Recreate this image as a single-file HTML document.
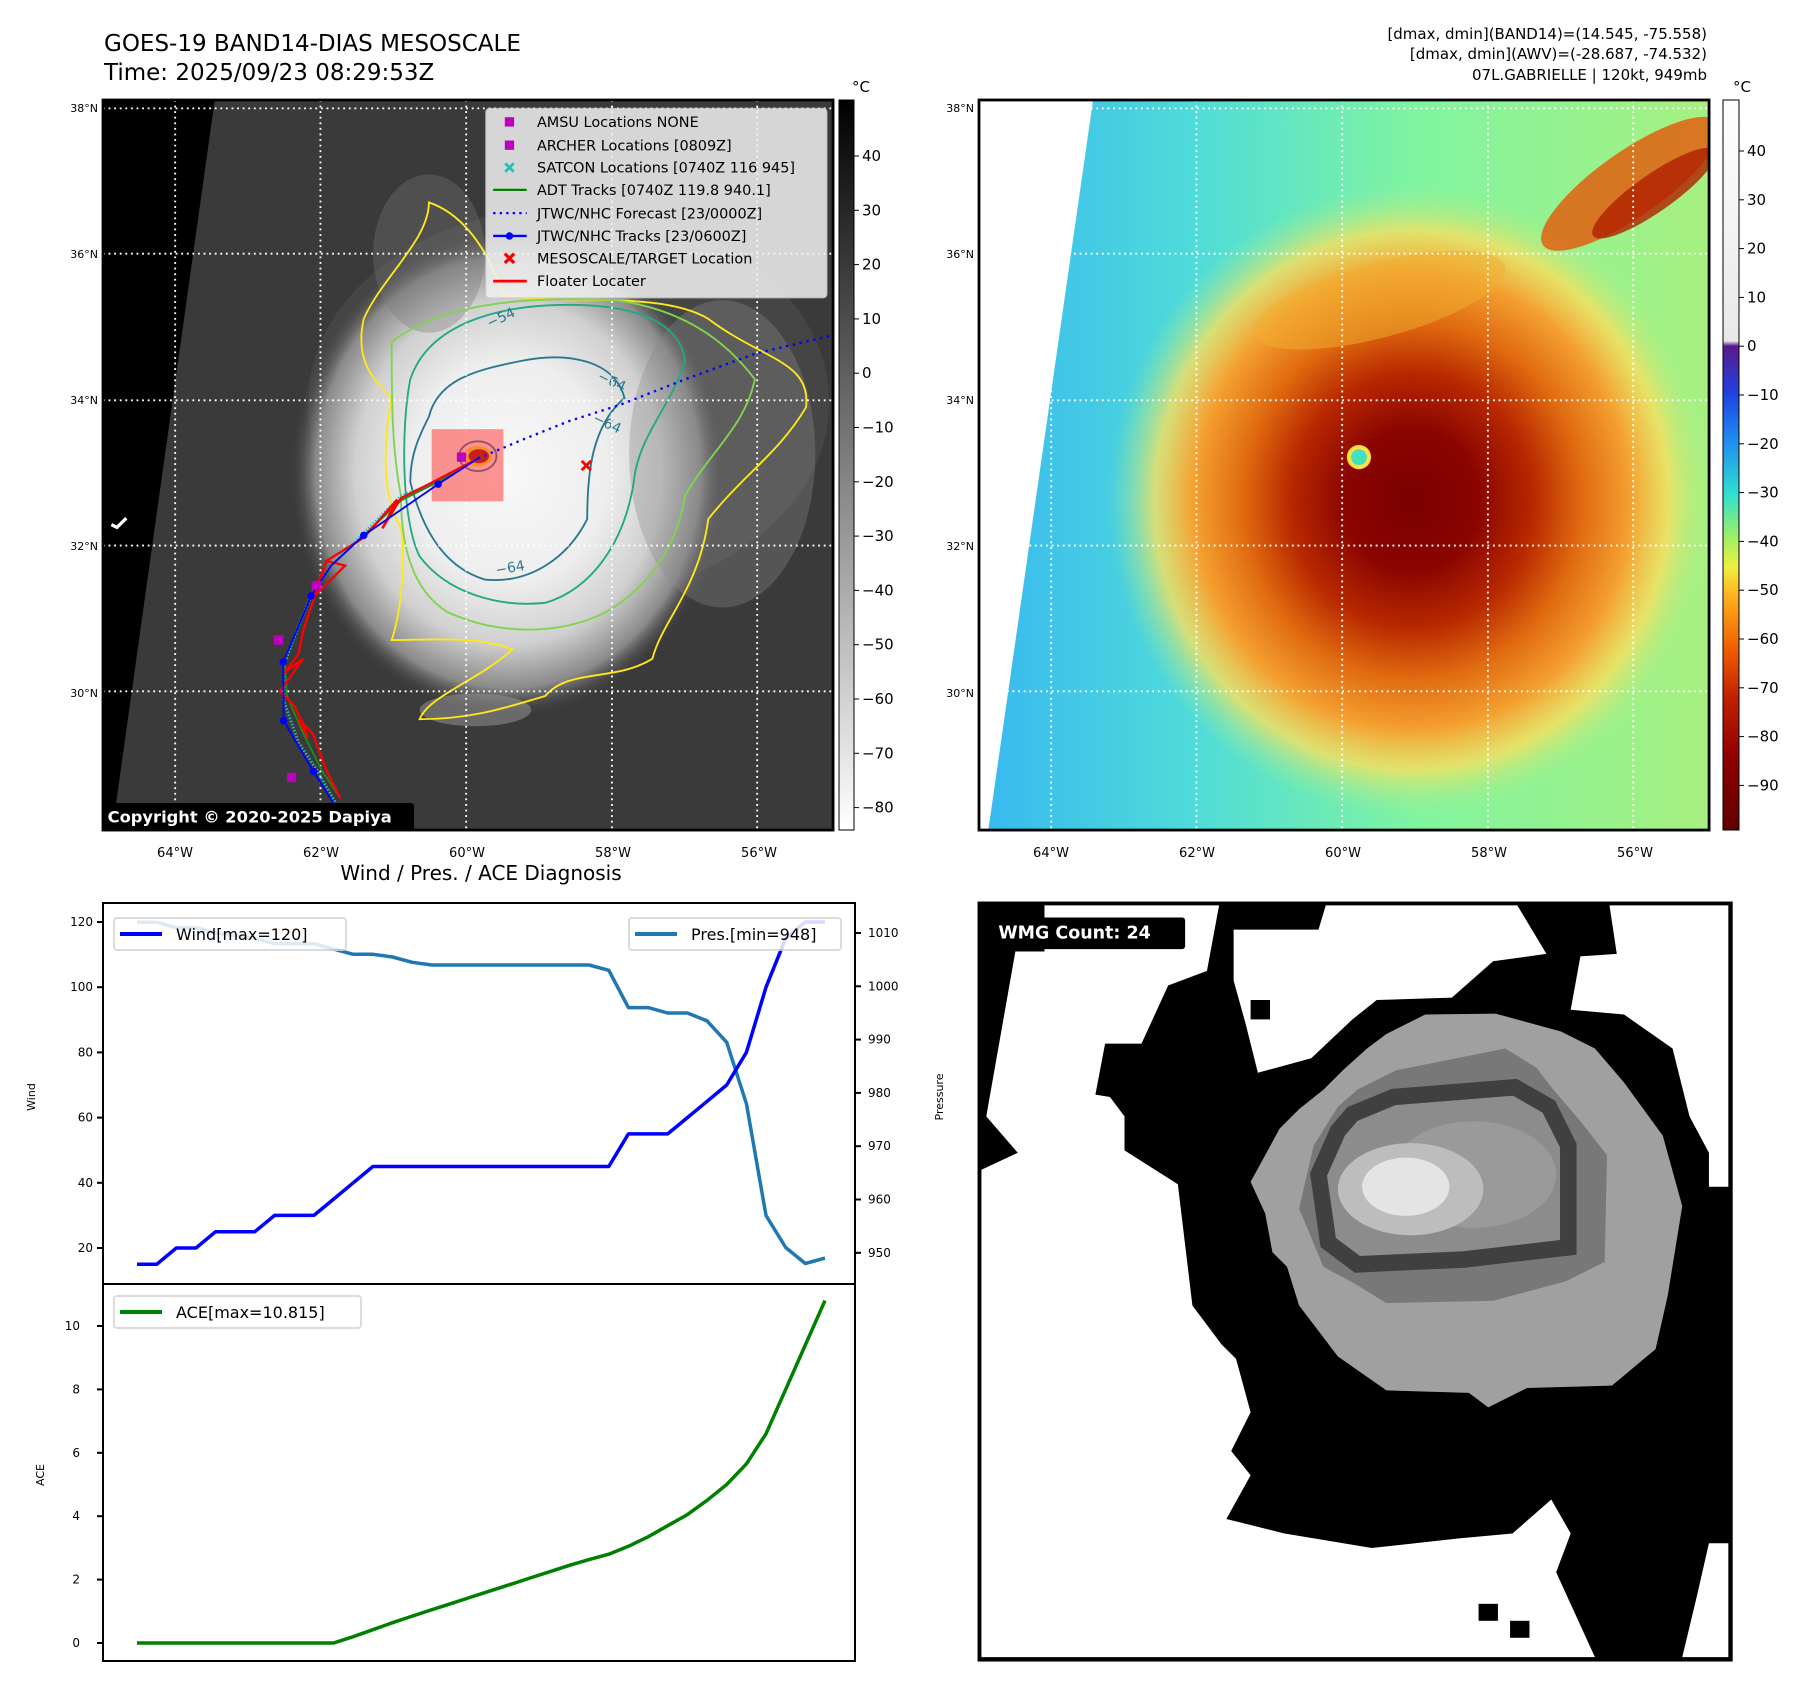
<!DOCTYPE html>
<html><head><meta charset="utf-8">
<style>
html,body{margin:0;padding:0;background:#fff;}
svg{display:block;font-family:"DejaVu Sans","Liberation Sans",sans-serif;}
</style></head>
<body>
<svg id="root" width="1797" height="1690" viewBox="0 0 1797 1690" xmlns="http://www.w3.org/2000/svg">
<defs>
  <radialGradient id="gStorm" cx="870" cy="800" r="470" gradientUnits="userSpaceOnUse" gradientTransform="translate(870 800) scale(1 1.12) translate(-870 -800)">
    <stop offset="0" stop-color="#f8f8f8"/><stop offset="0.45" stop-color="#eeeeee"/>
    <stop offset="0.7" stop-color="#d0d0d0"/><stop offset="0.88" stop-color="#8a8a8a"/><stop offset="1" stop-color="#3a3a3a" stop-opacity="0"/>
  </radialGradient>
  <linearGradient id="gBg2" x1="0" y1="0" x2="1" y2="0">
    <stop offset="0" stop-color="#38b8f0"/><stop offset="0.3" stop-color="#50dcd8"/><stop offset="0.6" stop-color="#80f4a0"/><stop offset="1" stop-color="#a8f080"/>
  </linearGradient>
  <radialGradient id="gStorm2" cx="930" cy="860" r="620" gradientUnits="userSpaceOnUse" gradientTransform="translate(930 860) scale(1.05 1.1) translate(-930 -860)">
    <stop offset="0" stop-color="#7a0000"/><stop offset="0.22" stop-color="#8a0500"/>
    <stop offset="0.4" stop-color="#b82800"/><stop offset="0.56" stop-color="#e06a10"/>
    <stop offset="0.72" stop-color="#f4a030"/><stop offset="0.85" stop-color="#f8e060" stop-opacity="0.8"/><stop offset="1" stop-color="#a0f090" stop-opacity="0"/>
  </radialGradient>
  <linearGradient id="gCb1" x1="0" y1="0" x2="0" y2="1">
    <stop offset="0" stop-color="#000"/><stop offset="1" stop-color="#fff"/>
  </linearGradient>
  <linearGradient id="gCb2" x1="0" y1="0" x2="0" y2="1">
    <stop offset="0" stop-color="#ffffff"/><stop offset="0.33" stop-color="#e8e8e8"/>
    <stop offset="0.337" stop-color="#5a1a8c"/><stop offset="0.4" stop-color="#2040e0"/>
    <stop offset="0.47" stop-color="#2090f0"/><stop offset="0.54" stop-color="#30e0d0"/>
    <stop offset="0.6" stop-color="#a0f060"/><stop offset="0.64" stop-color="#f0f040"/>
    <stop offset="0.68" stop-color="#ffb020"/><stop offset="0.75" stop-color="#f06000"/>
    <stop offset="0.82" stop-color="#c02000"/><stop offset="0.9" stop-color="#900000"/><stop offset="1" stop-color="#600000"/>
  </linearGradient>
  <clipPath id="clipMap"><rect x="0" y="0" width="1568" height="1568"/></clipPath>
  <clipPath id="clipWP"><rect x="103" y="903" width="752" height="381"/></clipPath>
  <clipPath id="clipAce"><rect x="103" y="1284" width="752" height="377"/></clipPath>
</defs>

<!-- Titles -->
<text x="104" y="51" font-size="23">GOES-19 BAND14-DIAS MESOSCALE</text>
<text x="104" y="80" font-size="23">Time: 2025/09/23 08:29:53Z</text>
<g font-size="15" text-anchor="end">
  <text x="1707" y="39">[dmax, dmin](BAND14)=(14.545, -75.558)</text>
  <text x="1707" y="59">[dmax, dmin](AWV)=(-28.687, -74.532)</text>
  <text x="1707" y="80">07L.GABRIELLE | 120kt, 949mb</text>
</g>

<!-- LEFT MAP -->
<g transform="translate(103 100) scale(0.4656)">
  <g clip-path="url(#clipMap)">
    <rect width="1568" height="1568" fill="#3a3a3a"/>
    <ellipse cx="1000" cy="650" rx="560" ry="420" fill="#454545"/>
    <ellipse cx="870" cy="800" rx="470" ry="530" fill="url(#gStorm)"/>
    <ellipse cx="700" cy="330" rx="120" ry="170" fill="#777" opacity="0.35"/>
    <ellipse cx="1330" cy="760" rx="200" ry="330" fill="#8a8a8a" opacity="0.35"/>
    <ellipse cx="800" cy="1310" rx="120" ry="35" fill="#999" opacity="0.5"/>
    <polygon points="0,0 240,0 20,1568 0,1568" fill="#000"/>
    <!-- contours -->
    <path d="M560 470 C600 380 700 300 700 220 C760 240 820 300 860 420 C1000 440 1200 410 1300 470 C1420 560 1520 560 1510 660 C1450 760 1380 800 1300 900 C1280 1050 1200 1120 1180 1200 C1100 1250 1000 1220 950 1280 C880 1300 800 1330 680 1330 C700 1280 800 1250 880 1180 C800 1150 700 1160 620 1160 C640 1100 650 1000 640 920 C600 850 600 750 620 640 C580 600 540 560 560 470 Z" fill="none" stroke="#ffe81a" stroke-width="4"/>
    <path d="M620 520 C720 440 900 420 1100 430 C1250 450 1340 520 1400 600 C1380 700 1300 760 1250 850 C1230 980 1150 1060 1080 1100 C980 1150 850 1150 740 1100 C660 1050 640 950 640 850 C620 750 620 640 620 520 Z" fill="none" stroke="#7fd34e" stroke-width="4"/>
    <path d="M660 600 C700 480 850 440 1000 440 C1150 440 1240 480 1250 560 C1220 660 1150 720 1140 820 C1120 950 1050 1050 950 1080 C850 1090 740 1060 680 980 C640 900 640 700 660 600 Z" fill="none" stroke="#22a884" stroke-width="4"/>
    <path d="M700 680 C720 600 800 580 900 560 C1000 540 1100 560 1120 640 C1050 700 1040 800 1040 900 C1000 980 920 1040 820 1030 C720 1000 680 900 660 820 C660 760 680 720 700 680 Z" fill="none" stroke="#2a788e" stroke-width="4"/>
    <ellipse cx="805" cy="765" rx="40" ry="32" fill="none" stroke="#2a788e" stroke-width="4"/>
    <ellipse cx="805" cy="765" rx="30" ry="22" fill="#ffe81a"/>
    <ellipse cx="807" cy="765" rx="22" ry="15" fill="#8a1010"/>
    <g font-size="30" fill="#2a788e"><text x="830" y="490" transform="rotate(-25 830 490)">−54</text><text x="1060" y="600" transform="rotate(25 1060 600)">−64</text><text x="1050" y="690" transform="rotate(25 1050 690)">−64</text><text x="845" y="1020" transform="rotate(-10 845 1020)">−64</text></g>
    <!-- grid -->
    <g stroke="#fff" stroke-width="4" stroke-dasharray="4 8">
      <line x1="155" y1="0" x2="155" y2="1568"/><line x1="467" y1="0" x2="467" y2="1568"/><line x1="780" y1="0" x2="780" y2="1568"/><line x1="1093" y1="0" x2="1093" y2="1568"/><line x1="1405" y1="0" x2="1405" y2="1568"/>
      <line x1="0" y1="18" x2="1568" y2="18"/><line x1="0" y1="330" x2="1568" y2="330"/><line x1="0" y1="645" x2="1568" y2="645"/><line x1="0" y1="957" x2="1568" y2="957"/><line x1="0" y1="1270" x2="1568" y2="1270"/>
    </g>
    <rect x="706" y="707" width="154" height="155" fill="#ff3030" opacity="0.5"/>
    <!-- tracks -->
    <polyline points="805,770 720,820 640,850 560,930 490,1000 447,1065 420,1130 390,1210 388,1290 420,1380 460,1440 500,1510" fill="none" stroke="#20c0c0" stroke-width="6" stroke-dasharray="3 4"/>
    <polyline points="805,770 720,820 640,860 560,935 490,1000 447,1065 420,1130 390,1200 395,1280 430,1360 470,1440 510,1500" fill="none" stroke="#1a8a1a" stroke-width="4"/>
    <polyline points="805,770 700,825 640,855 600,920 632,858 560,940 480,990 520,1000 450,1070 480,990 430,1140 420,1190 390,1230 430,1200 380,1270 410,1300 430,1340 440,1370 420,1330 450,1360 480,1440 510,1500" fill="none" stroke="#ff0000" stroke-width="5"/>
    <polyline points="805,770 720,825 640,880 560,935 490,1000 447,1065 420,1130 387,1207 388,1333 452,1442 495,1510" fill="none" stroke="#0000ff" stroke-width="4"/>
    <g fill="#0000ff"><circle cx="720" cy="825" r="8"/><circle cx="560" cy="935" r="8"/><circle cx="447" cy="1065" r="8"/><circle cx="387" cy="1207" r="8"/><circle cx="388" cy="1333" r="8"/><circle cx="452" cy="1442" r="8"/></g>
    <polyline points="805,770 900,730 1000,690 1110,655 1250,600 1400,545 1568,505" fill="none" stroke="#0000ff" stroke-width="5" stroke-dasharray="5 10"/>
    <g fill="#c000c0"><rect x="760" y="757" width="20" height="20"/><rect x="448" y="1033" width="20" height="20"/><rect x="367" y="1150" width="20" height="20"/><rect x="395" y="1445" width="20" height="20"/></g>
    <g stroke="#ff0000" stroke-width="6"><line x1="1028" y1="775" x2="1048" y2="795"/><line x1="1048" y1="775" x2="1028" y2="795"/></g>
    <path d="M18 912 L30 918 L50 898" stroke="#fff" stroke-width="7" fill="none"/>
    <!-- legend -->
    <g>
      <rect x="822" y="18" width="733" height="407" rx="8" fill="#f2f2f2" opacity="0.85" stroke="#ccc" stroke-width="2"/>
      <rect x="863" y="37" width="20" height="20" fill="#c000c0"/>
      <rect x="863" y="87" width="20" height="20" fill="#c000c0"/>
      <g stroke="#20c0c0" stroke-width="6"><line x1="864" y1="136" x2="882" y2="154"/><line x1="882" y1="136" x2="864" y2="154"/></g>
      <line x1="838" y1="193" x2="910" y2="193" stroke="#008000" stroke-width="5"/>
      <line x1="838" y1="243" x2="910" y2="243" stroke="#0000ff" stroke-width="5" stroke-dasharray="5 9"/>
      <line x1="838" y1="292" x2="910" y2="292" stroke="#0000ff" stroke-width="5"/><circle cx="873" cy="292" r="8" fill="#0000ff"/>
      <g stroke="#ff0000" stroke-width="7"><line x1="863" y1="330" x2="883" y2="350"/><line x1="883" y1="330" x2="863" y2="350"/></g>
      <line x1="838" y1="389" x2="910" y2="389" stroke="#ff0000" stroke-width="6"/>
      <g font-size="31" fill="#000">
        <text x="932" y="58">AMSU Locations NONE</text>
        <text x="932" y="108">ARCHER Locations [0809Z]</text>
        <text x="932" y="156">SATCON Locations [0740Z 116 945]</text>
        <text x="932" y="204">ADT Tracks [0740Z 119.8 940.1]</text>
        <text x="932" y="254">JTWC/NHC Forecast [23/0000Z]</text>
        <text x="932" y="303">JTWC/NHC Tracks [23/0600Z]</text>
        <text x="932" y="351">MESOSCALE/TARGET Location</text>
        <text x="932" y="400">Floater Locater</text>
      </g>
    </g>
    <rect x="0" y="1510" width="668" height="60" rx="6" fill="#000"/>
    <text x="10" y="1552" font-size="35" font-weight="bold" fill="#fff">Copyright © 2020-2025 Dapiya</text>
  </g>
  <rect x="0" y="0" width="1568" height="1568" fill="none" stroke="#000" stroke-width="6"/>
</g>

<!-- RIGHT MAP -->
<g transform="translate(979 100) scale(0.4656)">
  <g clip-path="url(#clipMap)">
    <rect width="1568" height="1568" fill="url(#gBg2)"/>
    <ellipse cx="930" cy="860" rx="650" ry="690" fill="url(#gStorm2)"/>
    <ellipse cx="1400" cy="180" rx="230" ry="70" transform="rotate(-35 1400 180)" fill="#e06010" opacity="0.85"/>
    <ellipse cx="1450" cy="200" rx="160" ry="40" transform="rotate(-35 1450 200)" fill="#b02000" opacity="0.8"/>
    <ellipse cx="860" cy="430" rx="280" ry="80" transform="rotate(-15 860 430)" fill="#f0b030" opacity="0.5"/>
    <circle cx="816" cy="767" r="26" fill="#ffe040"/>
    <circle cx="816" cy="767" r="17" fill="#40e0c0"/>
    <polygon points="0,0 245,0 20,1568 0,1568" fill="#fff"/>
    <g stroke="#fff" stroke-width="4" stroke-dasharray="4 8">
      <line x1="155" y1="0" x2="155" y2="1568"/><line x1="467" y1="0" x2="467" y2="1568"/><line x1="780" y1="0" x2="780" y2="1568"/><line x1="1093" y1="0" x2="1093" y2="1568"/><line x1="1405" y1="0" x2="1405" y2="1568"/>
      <line x1="0" y1="18" x2="1568" y2="18"/><line x1="0" y1="330" x2="1568" y2="330"/><line x1="0" y1="645" x2="1568" y2="645"/><line x1="0" y1="957" x2="1568" y2="957"/><line x1="0" y1="1270" x2="1568" y2="1270"/>
    </g>
  </g>
  <rect x="0" y="0" width="1568" height="1568" fill="none" stroke="#000" stroke-width="6"/>
</g>

<!-- Map axis labels -->
<g font-size="11" text-anchor="end">
  <text x="98" y="112">38°N</text><text x="98" y="258">36°N</text><text x="98" y="404">34°N</text><text x="98" y="550">32°N</text><text x="98" y="697">30°N</text>
  <text x="974" y="112">38°N</text><text x="974" y="258">36°N</text><text x="974" y="404">34°N</text><text x="974" y="550">32°N</text><text x="974" y="697">30°N</text>
</g>
<g font-size="13" text-anchor="middle">
  <text x="175" y="857">64°W</text><text x="321" y="857">62°W</text><text x="467" y="857">60°W</text><text x="613" y="857">58°W</text><text x="759" y="857">56°W</text>
  <text x="1051" y="857">64°W</text><text x="1197" y="857">62°W</text><text x="1343" y="857">60°W</text><text x="1489" y="857">58°W</text><text x="1635" y="857">56°W</text>
</g>

<!-- Colorbars -->
<rect x="839" y="100" width="15" height="730" fill="url(#gCb1)" stroke="#000" stroke-width="1"/>
<rect x="1723" y="100" width="16" height="730" fill="url(#gCb2)" stroke="#000" stroke-width="1"/>
<text x="852" y="92" font-size="15">°C</text>
<text x="1733" y="92" font-size="15">°C</text>
<g id="cbTicks" font-size="15"></g>

<!-- Chart -->
<text x="481" y="880" font-size="20" text-anchor="middle">Wind / Pres. / ACE Diagnosis</text>
<g id="chart"></g>

<!-- WMG panel -->
<g transform="translate(979 903) scale(0.485)">
  <rect x="0" y="0" width="1551" height="1561" fill="#000"/>
  <polygon fill="#fff" points="5,1555 5,550 80,515 15,440 75,100 135,100 135,5 495,5 470,140 390,170 335,290 260,290 240,395 270,400 300,440 300,510 410,580 440,830 500,910 530,940 560,1050 520,1130 560,1180 510,1270 630,1300 810,1330 990,1310 1100,1300 1180,1230 1220,1300 1190,1380 1270,1555"/>
  <polygon fill="#fff" points="525,55 700,55 715,5 1110,5 1170,105 1060,120 975,195 820,200 770,240 685,320 575,350 550,250 525,160"/>
  <polygon fill="#fff" points="1300,5 1545,5 1545,585 1505,585 1505,515 1465,440 1430,300 1330,230 1220,220 1240,110 1315,105"/>
  <polygon fill="#fff" points="1505,1320 1545,1320 1545,1555 1450,1555 1480,1430"/>
  <rect x="1030" y="1445" width="40" height="35" fill="#000"/><rect x="1095" y="1480" width="40" height="35" fill="#000"/>
  <rect x="420" y="170" width="40" height="70" fill="#000"/><rect x="560" y="200" width="40" height="40" fill="#000"/>
  <polygon fill="#a0a0a0" points="560,575 620,465 660,425 710,385 750,345 800,300 840,270 920,230 1065,228 1200,265 1270,300 1330,370 1410,480 1450,625 1420,810 1395,920 1305,995 1130,1000 1050,1040 1010,1010 840,1005 740,935 660,830 635,750 605,720 590,640"/>
  <polygon fill="#787878" points="660,630 690,500 740,420 780,385 860,345 1085,300 1150,340 1180,380 1240,450 1295,520 1290,740 1210,780 1060,820 840,825 775,785 710,750"/>
  <polygon fill="#8c8c8c" stroke="#404040" stroke-width="34" points="770,435 855,400 1105,380 1175,420 1215,500 1215,710 1000,735 780,745 720,700 700,560 740,470"/>
  <ellipse cx="1020" cy="560" rx="170" ry="110" fill="#9a9a9a"/>
  <ellipse cx="890" cy="590" rx="150" ry="95" fill="#bdbdbd"/>
  <ellipse cx="880" cy="585" rx="90" ry="60" fill="#e4e4e4"/>
  <rect x="30" y="30" width="395" height="65" rx="6" fill="#000"/>
  <text x="40" y="73" font-size="36" font-weight="bold" fill="#fff">WMG Count: 24</text>
  <rect x="0" y="0" width="1551" height="1561" fill="none" stroke="#000" stroke-width="6"/>
</g>

<script>
// ---- chart data ----
const windValues = [15,15,20,20,25,25,25,30,30,30,35,40,45,45,45,45,45,45,45,45,45,45,45,45,45,55,55,55,60,65,70,80,100,115,120,120];
const presValues = [1012,1012,1011,1011,1010,1009.5,1009,1008,1008,1008,1007,1006,1006,1005.5,1004.5,1004,1004,1004,1004,1004,1004,1004,1004,1004,1003,996,996,995,995,993.5,989.5,978,957,951,948,949];
const aceValues = [0,0,0,0,0,0,0,0,0,0,0,0.2,0.42,0.64,0.85,1.05,1.25,1.45,1.65,1.85,2.05,2.25,2.45,2.63,2.8,3.05,3.35,3.7,4.05,4.5,5.0,5.65,6.6,8.0,9.4,10.8];
const windTicks = [20,40,60,80,100,120];
const presTicks = [950,960,970,980,990,1000,1010];
const aceTicks = [0,2,4,6,8,10];
const cb1Ticks = [40,30,20,10,0,-10,-20,-30,-40,-50,-60,-70,-80];
const cb2Ticks = [40,30,20,10,0,-10,-20,-30,-40,-50,-60,-70,-80,-90];

const NS = "http://www.w3.org/2000/svg";
function xS(i){ return 137 + i*(825-137)/(windValues.length-1); }
function yWind(v){ return 922 + (120-v)*65.2/20; }
function yPres(p){ return 933 + (1010-p)*5.33; }
function yAce(a){ return 1643 - a*31.7; }
function yCb1(v){ return 156 + (40-v)*5.43; }
function yCb2(v){ return 151 + (40-v)*4.88; }
function mk(tag, attrs, parent){ const e=document.createElementNS(NS,tag); for(const k in attrs) e.setAttribute(k,attrs[k]); parent.appendChild(e); return e; }
function fmt(v){ return v<0 ? "\u2212"+Math.abs(v) : String(v); }

const chart = document.getElementById('chart');
const cbg = document.getElementById('cbTicks');

cb1Ticks.forEach(v=>{
  const y=yCb1(v);
  const l=mk('line',{x1:854,y1:y,x2:859,y2:y,stroke:'#000'},cbg);
  
  
  const t=mk('text',{x:862,y:y+5},cbg); t.textContent=fmt(v);
  
  
});
cb2Ticks.forEach(v=>{
  const y=yCb2(v);
  const l=mk('line',{x1:1739,y1:y,x2:1744,y2:y,stroke:'#000'},cbg);
  
  
  const t=mk('text',{x:1747,y:y+5},cbg); t.textContent=fmt(v);
  
  
});

function linePts(vals, yf){ return vals.map((v,i)=>xS(i).toFixed(1)+","+yf(v).toFixed(1)).join(" "); }
const gWP = mk('g',{'clip-path':'url(#clipWP)'},chart);
const pres = mk('polyline',{points:linePts(presValues,yPres),fill:'none',stroke:'#1f77b4','stroke-width':3.5,'stroke-linejoin':'round'},gWP);


const wind = mk('polyline',{points:linePts(windValues,yWind),fill:'none',stroke:'#0000ff','stroke-width':3.5,'stroke-linejoin':'round'},gWP);


const gA = mk('g',{'clip-path':'url(#clipAce)'},chart);
const ace = mk('polyline',{points:linePts(aceValues,yAce),fill:'none',stroke:'#008000','stroke-width':3.5,'stroke-linejoin':'round'},gA);



const f1=mk('rect',{x:103,y:903,width:752,height:381,fill:'none',stroke:'#000','stroke-width':2},chart);


const f2=mk('rect',{x:103,y:1284,width:752,height:377,fill:'none',stroke:'#000','stroke-width':2},chart);



windTicks.forEach(v=>{ const y=yWind(v);
  mk('line',{x1:97,y1:y,x2:103,y2:y,stroke:'#000','stroke-width':2},chart);
  const t=mk('text',{x:93,y:y+4,'font-size':12,'text-anchor':'end'},chart); t.textContent=v;
  
  
});
presTicks.forEach(v=>{ const y=yPres(v);
  mk('line',{x1:855,y1:y,x2:861,y2:y,stroke:'#000','stroke-width':2},chart);
  const t=mk('text',{x:868,y:y+4,'font-size':12},chart); t.textContent=v;
  
  
});
aceTicks.forEach(v=>{ const y=yAce(v);
  mk('line',{x1:97,y1:y,x2:103,y2:y,stroke:'#000','stroke-width':2},chart);
  const t=mk('text',{x:80,y:y+4,'font-size':12,'text-anchor':'end'},chart); t.textContent=v;
  
  
});

function rotText(x,y,s,name){ const t=mk('text',{x:x,y:y,'font-size':11,'text-anchor':'middle',transform:'rotate(-90 '+x+' '+y+')'},chart); t.textContent=s;
  
   }
rotText(35,1097,'Wind','wind-axis-title');
rotText(943,1097,'Pressure','pressure-axis-title');
rotText(44,1475,'ACE','ace-axis-title');

function legend(x,y,w,color,label,name){
  const g=mk('g',{},chart);
  
  
  mk('rect',{x:x,y:y,width:w,height:32,rx:3,fill:'#fff',opacity:0.85,stroke:'#d5d5d5','stroke-width':2},g);
  mk('line',{x1:x+6,y1:y+16,x2:x+48,y2:y+16,stroke:color,'stroke-width':4},g);
  const t=mk('text',{x:x+62,y:y+22,'font-size':16},g); t.textContent=label;
}
legend(114,918,232,'#0000ff','Wind[max=120]','wind-legend');
legend(629,918,212,'#1f77b4','Pres.[min=948]','pressure-legend');
legend(114,1296,247,'#008000','ACE[max=10.815]','ace-legend');
</script>
</svg>
</body></html>
